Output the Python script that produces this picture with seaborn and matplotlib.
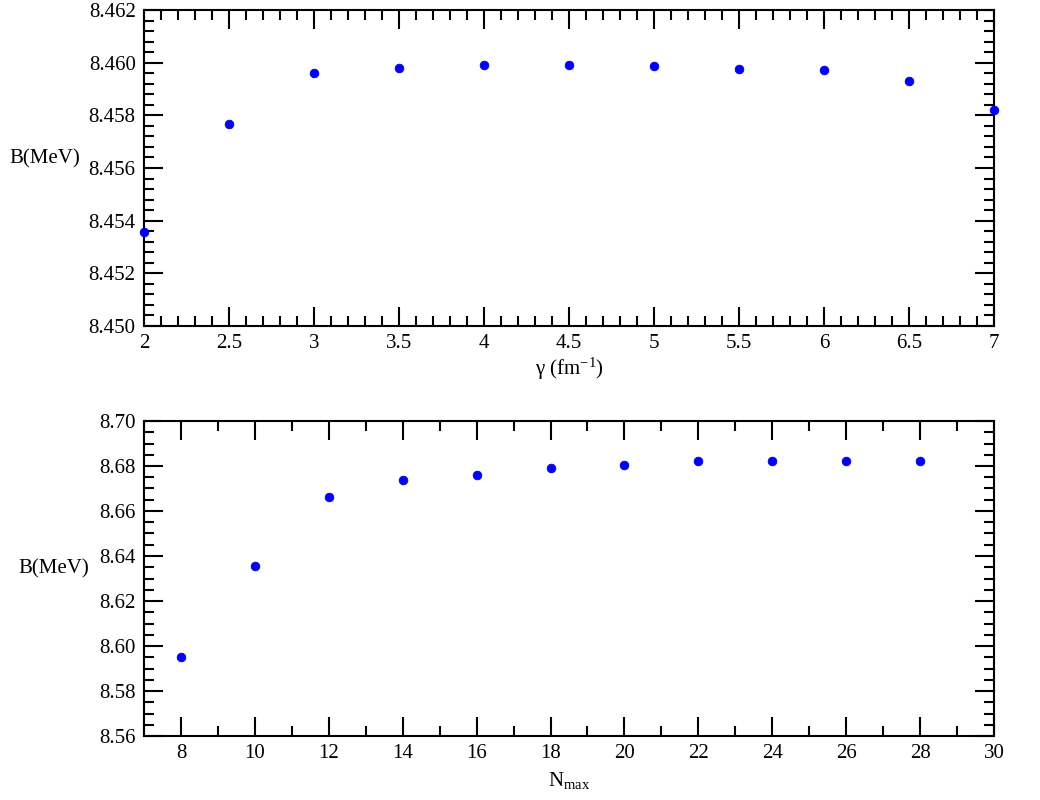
import matplotlib
matplotlib.use("Agg")
import matplotlib.pyplot as plt
import seaborn as sns
import pandas as pd
from matplotlib.ticker import MultipleLocator, FormatStrFormatter

# top panel: binding energy vs gamma
gamma = [2.0, 2.5, 3.0, 3.5, 4.0, 4.5, 5.0, 5.5, 6.0, 6.5, 7.0]
b_gamma = [8.45358, 8.45768, 8.45961, 8.45978, 8.45990, 8.45990, 8.45989,
           8.45977, 8.45972, 8.45930, 8.45822]

# bottom panel: binding energy vs Nmax
nmax = [8, 10, 12, 14, 16, 18, 20, 22, 24, 26, 28]
b_nmax = [8.5952, 8.6355, 8.6664, 8.6740, 8.6760, 8.6790, 8.6803, 8.6824,
          8.6824, 8.6824, 8.6824]

sns.set_style("ticks")
plt.rcParams['font.family'] = ['Liberation Serif', 'DejaVu Serif']
plt.rcParams['mathtext.fontset'] = 'custom'
plt.rcParams['mathtext.rm'] = 'Liberation Serif'
plt.rcParams['mathtext.it'] = 'Liberation Serif'
plt.rcParams['axes.labelcolor'] = 'black'
plt.rcParams['text.color'] = 'black'

fig = plt.figure(figsize=(10.4, 8), dpi=100)
ax1 = fig.add_axes([144 / 1040, 1 - 326 / 800, 850 / 1040, 316 / 800])
ax2 = fig.add_axes([144 / 1040, 1 - 736 / 800, 850 / 1040, 315 / 800])

df1 = pd.DataFrame({"x": gamma, "y": b_gamma})
df2 = pd.DataFrame({"x": nmax, "y": b_nmax})

for ax, df in [(ax1, df1), (ax2, df2)]:
    sns.scatterplot(data=df, x="x", y="y", ax=ax, color="#0000ff", s=40,
                    edgecolor="#0000cc", linewidth=0.5, clip_on=False, zorder=5)

ax1.set_xlim(2, 7)
ax1.set_ylim(8.450, 8.462)
ax1.xaxis.set_major_locator(MultipleLocator(0.5))
ax1.xaxis.set_minor_locator(MultipleLocator(0.1))
ax1.yaxis.set_major_locator(MultipleLocator(0.002))
ax1.yaxis.set_minor_locator(MultipleLocator(0.0004))
ax1.yaxis.set_major_formatter(FormatStrFormatter("%.3f"))
ax1.xaxis.set_major_formatter(FormatStrFormatter("%g"))

ax2.set_xlim(7, 30)
ax2.set_ylim(8.56, 8.70)
ax2.xaxis.set_major_locator(MultipleLocator(2))
ax2.xaxis.set_minor_locator(MultipleLocator(1))
ax2.yaxis.set_major_locator(MultipleLocator(0.02))
ax2.yaxis.set_minor_locator(MultipleLocator(0.005))
ax2.yaxis.set_major_formatter(FormatStrFormatter("%.2f"))
ax2.xaxis.set_major_formatter(FormatStrFormatter("%d"))

for ax in (ax1, ax2):
    for sp in ax.spines.values():
        sp.set_visible(True)
        sp.set_linewidth(1.5)
        sp.set_color("black")
    ax.tick_params(which="both", direction="in", top=True, right=True,
                   width=1.5, colors="black", labelsize=15)
    ax.tick_params(which="major", length=14, pad=6)
    ax.tick_params(which="minor", length=7)

ax1.set_ylabel("B(MeV)", rotation=0, fontsize=15, color="black")
ax1.yaxis.set_label_coords(-0.117, 0.50)
ax1.set_xlabel("γ (fm$^{-1}$)", fontsize=15, color="black")
ax1.xaxis.set_label_coords(0.5, -0.095)

ax2.set_ylabel("B(MeV)", rotation=0, fontsize=15, color="black")
ax2.yaxis.set_label_coords(-0.106, 0.50)
ax2.set_xlabel("N$_{\\mathrm{max}}$", fontsize=15, color="black")
ax2.xaxis.set_label_coords(0.5, -0.108)

fig.savefig("out.png", dpi=100)
